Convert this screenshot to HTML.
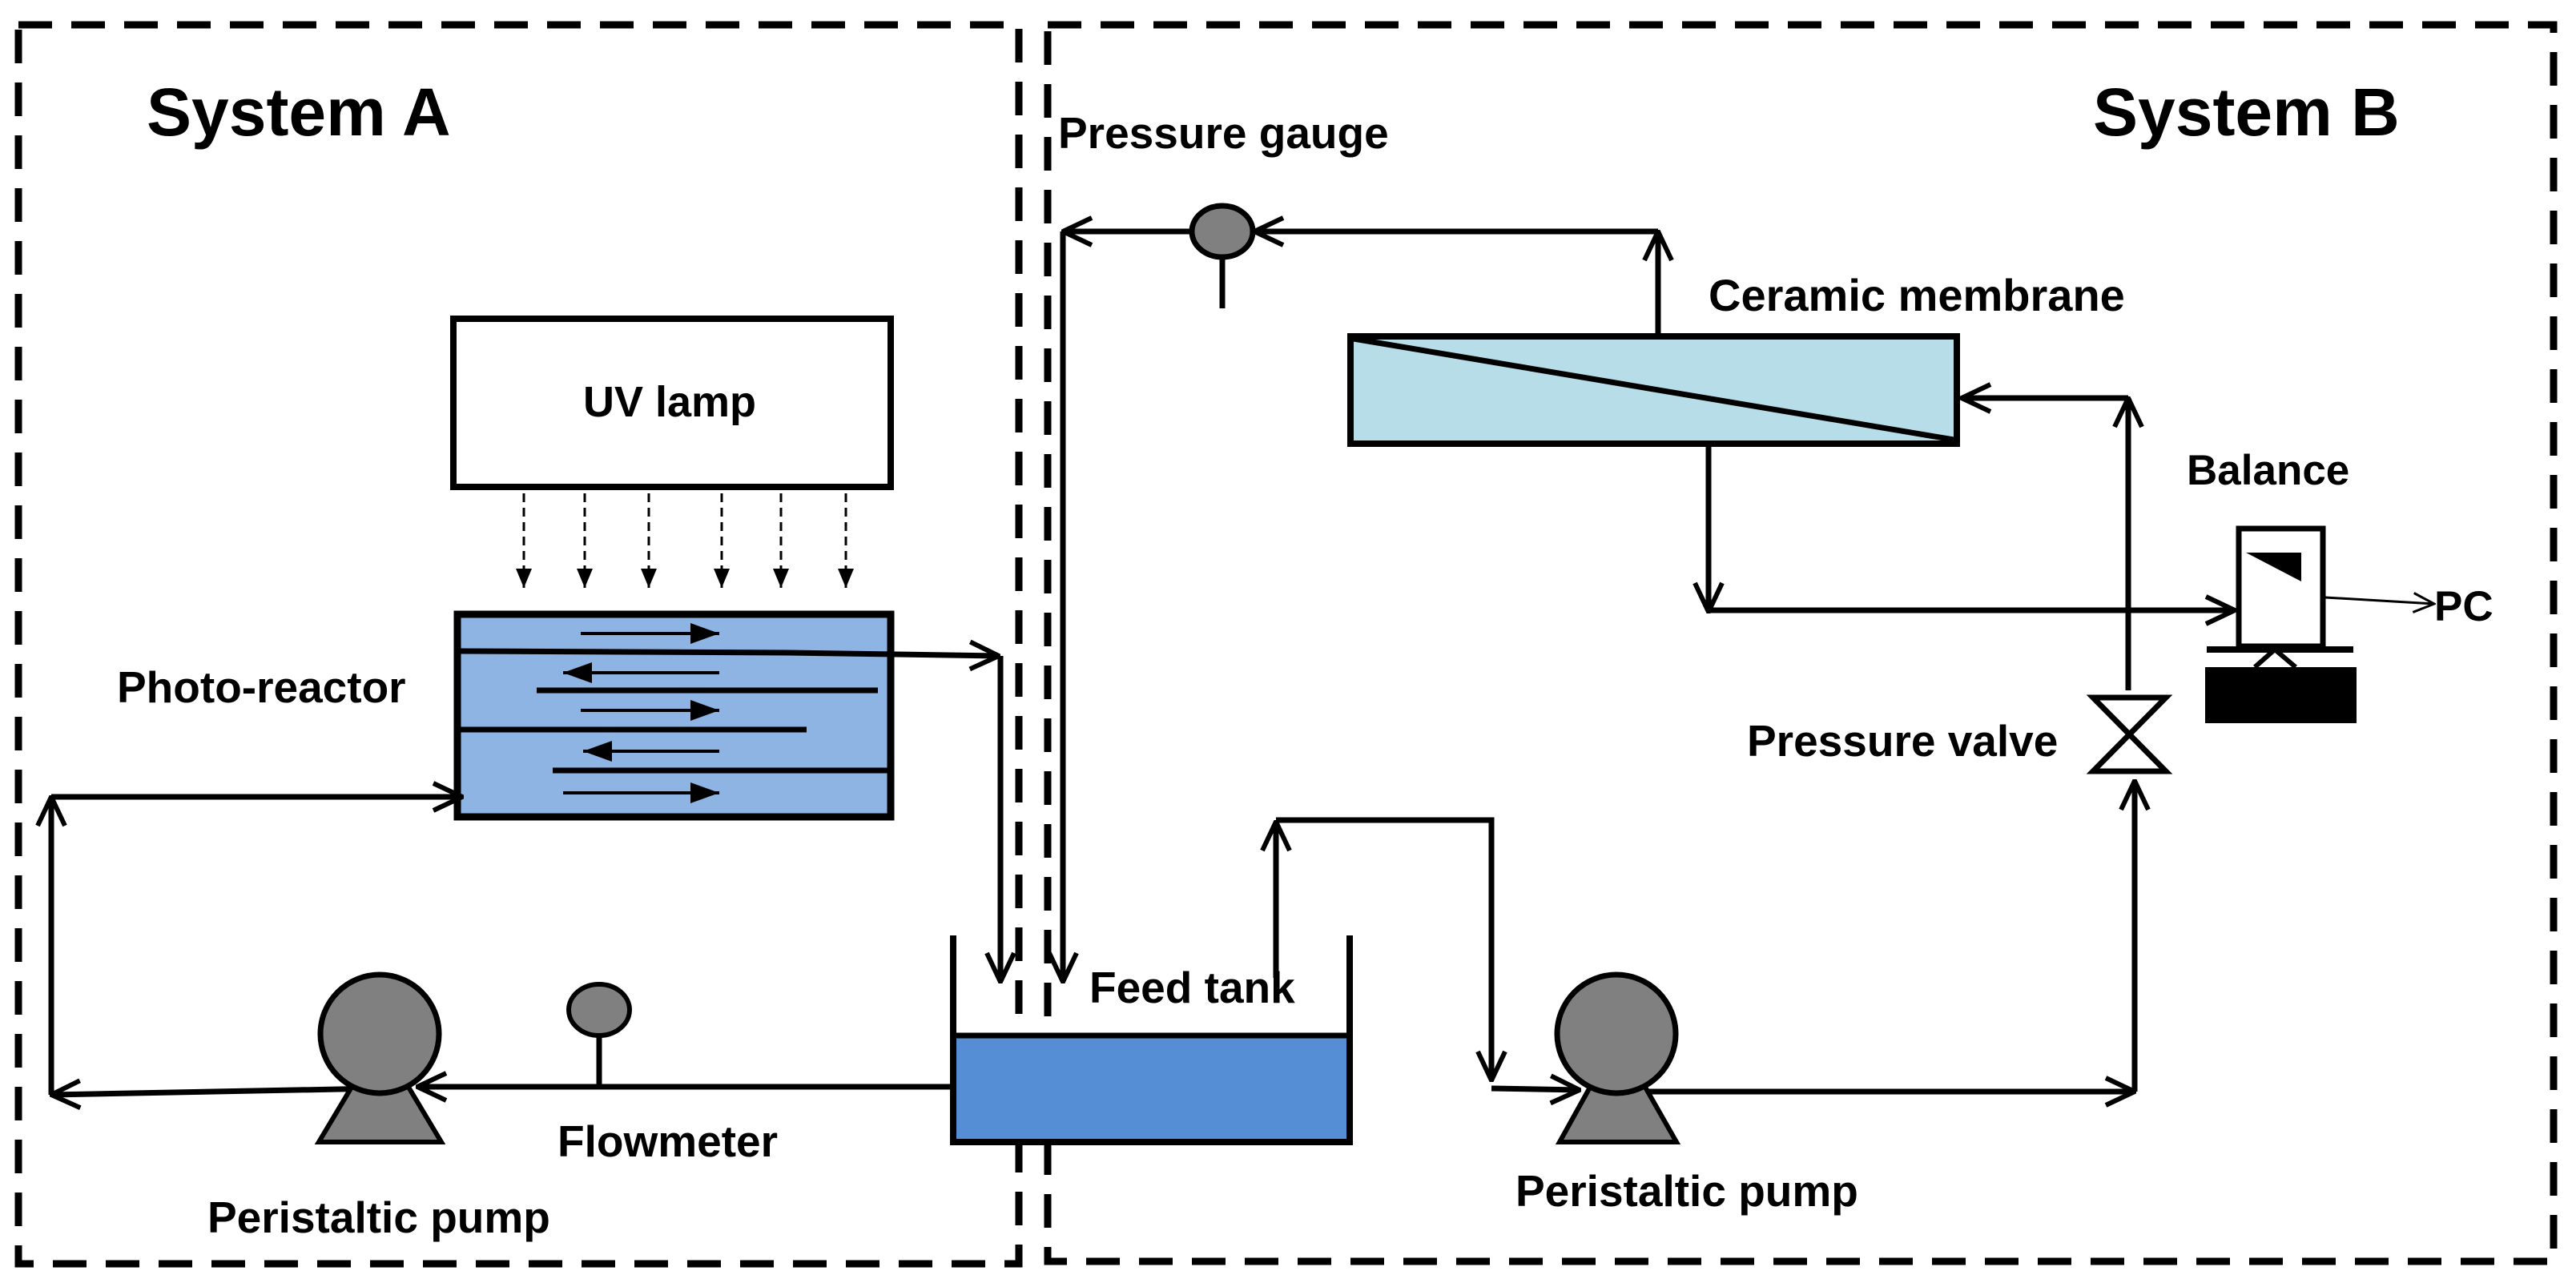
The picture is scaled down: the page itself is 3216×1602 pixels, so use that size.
<!DOCTYPE html>
<html><head><meta charset="utf-8"><style>
html,body{margin:0;padding:0;background:#fff;}
svg{display:block;}
text{font-family:"Liberation Sans",Arial,sans-serif;font-weight:bold;fill:#000;}
</style></head><body>
<svg width="3216" height="1602" viewBox="0 0 3216 1602" xmlns="http://www.w3.org/2000/svg">
<defs>
<marker id="a" markerUnits="userSpaceOnUse" viewBox="0 0 40 40" markerWidth="40" markerHeight="40" refX="38" refY="20" orient="auto">
<path d="M2,3 L38,20 L2,37" fill="none" stroke="#000" stroke-width="6"/>
</marker>
<marker id="t" markerUnits="userSpaceOnUse" viewBox="0 0 30 30" markerWidth="30" markerHeight="30" refX="28" refY="15" orient="auto">
<path d="M2,3 L28,15 L2,27" fill="none" stroke="#000" stroke-width="3"/>
</marker>
<marker id="f" markerUnits="userSpaceOnUse" viewBox="0 0 24 24" markerWidth="24" markerHeight="24" refX="24" refY="12" orient="auto">
<path d="M0,2 L24,12 L0,22 Z" fill="#000"/>
</marker>
<marker id="g" markerUnits="userSpaceOnUse" viewBox="0 0 36 28" markerWidth="36" markerHeight="28" refX="36" refY="14" orient="auto">
<path d="M0,1 L36,14 L0,27 Z" fill="#000"/>
</marker>
</defs>

<g fill="none" stroke="#000" stroke-width="9" stroke-dasharray="42 24">
<path d="M23,31 L1272,31 L1272,1578 L23,1578 Z"/>
<path d="M1308,31 L3188,31 L3188,1575 L1308,1575 Z"/>
</g>

<text x="183" y="169" font-size="84">System A</text>
<text x="2613" y="169" font-size="84">System B</text>
<text x="1321" y="185" font-size="55">Pressure gauge</text>
<text x="2133" y="388" font-size="56">Ceramic membrane</text>
<text x="146" y="877" font-size="55">Photo-reactor</text>
<text x="696" y="1444" font-size="55">Flowmeter</text>
<text x="259" y="1539" font-size="55">Peristaltic pump</text>
<text x="1360" y="1252" font-size="55">Feed tank</text>
<text x="2730" y="605" font-size="53">Balance</text>
<text x="2181" y="944" font-size="55">Pressure valve</text>
<text x="1892" y="1506" font-size="55">Peristaltic pump</text>
<text x="3039" y="775" font-size="53">PC</text>

<rect x="566" y="398" width="546" height="210" fill="#fff" stroke="#000" stroke-width="8"/>
<text x="836" y="520" font-size="54" text-anchor="middle">UV lamp</text>
<g stroke="#000" stroke-width="3" stroke-dasharray="11 7" marker-end="url(#f)">
<line x1="654" y1="616" x2="654" y2="734"/>
<line x1="730" y1="616" x2="730" y2="734"/>
<line x1="810" y1="616" x2="810" y2="734"/>
<line x1="901" y1="616" x2="901" y2="734"/>
<line x1="975" y1="616" x2="975" y2="734"/>
<line x1="1056" y1="616" x2="1056" y2="734"/>
</g>

<rect x="571" y="767" width="541" height="253" fill="#8eb4e3" stroke="#000" stroke-width="9"/>
<g stroke="#000" stroke-width="7" fill="none">
<line x1="670" y1="862" x2="1096" y2="862"/>
<line x1="575" y1="911" x2="1007" y2="911"/>
<line x1="690" y1="962" x2="1108" y2="962"/>
</g>
<g stroke="#000" stroke-width="4" marker-end="url(#g)">
<line x1="725" y1="791" x2="898" y2="791"/>
<line x1="898" y1="840" x2="703" y2="840"/>
<line x1="725" y1="887" x2="898" y2="887"/>
<line x1="898" y1="938" x2="728" y2="938"/>
<line x1="703" y1="990" x2="898" y2="990"/>
</g>

<g stroke="#000" stroke-width="7" fill="none" marker-end="url(#a)">
<polyline points="575,813 985,815 1247,819"/>
<line x1="1249" y1="819" x2="1249" y2="1226"/>
<line x1="64" y1="1367" x2="64" y2="995"/>
<line x1="64" y1="995" x2="577" y2="995"/>
<line x1="1190" y1="1357" x2="521" y2="1357"/>
<line x1="474" y1="1359" x2="64" y2="1367"/>
<line x1="2070" y1="416" x2="2070" y2="289"/>
<line x1="2070" y1="289" x2="1566" y2="289"/>
<line x1="1490" y1="289" x2="1327" y2="289"/>
<line x1="1327" y1="289" x2="1327" y2="1226"/>
<line x1="1593" y1="1221" x2="1593" y2="1026"/>
<polyline points="1593,1024 1862,1024 1862,1349"/>
<line x1="1862" y1="1359" x2="1972" y2="1361"/>
<line x1="2018" y1="1363" x2="2665" y2="1363"/>
<line x1="2665" y1="1363" x2="2665" y2="975"/>
<line x1="2657" y1="862" x2="2657" y2="497"/>
<line x1="2657" y1="497" x2="2449" y2="497"/>
<line x1="2133" y1="554" x2="2133" y2="764"/>
<line x1="2133" y1="762" x2="2790" y2="762"/>
</g>
<line x1="2903" y1="746" x2="3039" y2="754" stroke="#000" stroke-width="3" marker-end="url(#t)"/>

<line x1="1526" y1="320" x2="1526" y2="385" stroke="#000" stroke-width="7"/>
<ellipse cx="1526" cy="289" rx="38" ry="32" fill="#808080" stroke="#000" stroke-width="7"/>
<line x1="748" y1="1290" x2="748" y2="1357" stroke="#000" stroke-width="7"/>
<ellipse cx="748" cy="1261" rx="38" ry="32" fill="#808080" stroke="#000" stroke-width="6"/>

<polygon points="441,1354 508,1354 551,1426 398,1426" fill="#808080" stroke="#000" stroke-width="6"/>
<circle cx="474" cy="1291" r="74" fill="#808080" stroke="#000" stroke-width="7"/>
<polygon points="1987,1354 2052,1354 2093,1426 1947,1426" fill="#808080" stroke="#000" stroke-width="6"/>
<circle cx="2018" cy="1291" r="74" fill="#808080" stroke="#000" stroke-width="7"/>

<rect x="1190" y="1293" width="495" height="133" fill="#558ed5"/>
<polyline points="1190,1168 1190,1426 1685,1426 1685,1168" fill="none" stroke="#000" stroke-width="8"/>
<line x1="1190" y1="1293" x2="1685" y2="1293" stroke="#000" stroke-width="7"/>

<rect x="1686" y="420" width="757" height="134" fill="#b7dde8" stroke="#000" stroke-width="8"/>
<line x1="1690" y1="423" x2="2439" y2="549" stroke="#000" stroke-width="7"/>

<polygon points="2613,871 2704,871 2613,963 2704,963" fill="#fff" stroke="#000" stroke-width="7"/>

<rect x="2795" y="660" width="105" height="147" fill="#fff" stroke="#000" stroke-width="7"/>
<polygon points="2804,690 2873,690 2873,726" fill="#000"/>
<line x1="2755" y1="811" x2="2938" y2="811" stroke="#000" stroke-width="8"/>
<polyline points="2815,833 2840,811 2866,833" fill="none" stroke="#000" stroke-width="6"/>
<rect x="2753" y="833" width="189" height="70" fill="#000"/>
</svg>
</body></html>
